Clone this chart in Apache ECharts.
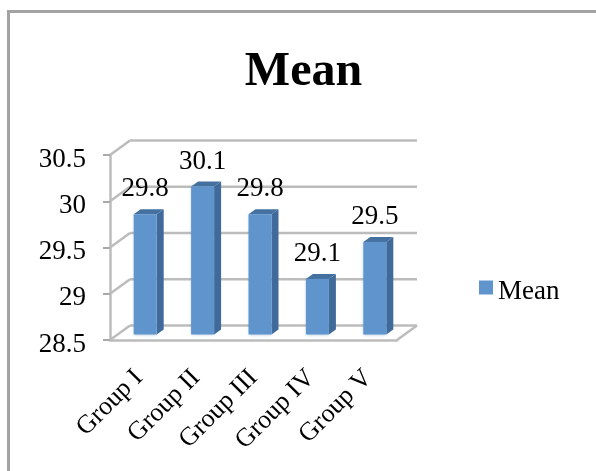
<!DOCTYPE html>
<html>
<head>
<meta charset="utf-8">
<style>html,body{margin:0;padding:0;background:#fff}#chart{width:596px;height:471px}</style>
<script src="https://cdn.jsdelivr.net/npm/echarts@6/dist/echarts.min.js"></script>
</head>
<body>
<div id="chart"></div>
<script>
// Mean value per study group
const categories = ['Group I', 'Group II', 'Group III', 'Group IV', 'Group V'];
const meanValues = [29.8, 30.1, 29.8, 29.1, 29.5];
const yTicks = [28.5, 29, 29.5, 30, 30.5];
const seriesName = 'Mean';

const FONT = '"Liberation Serif", serif';
const WALL_DX = 20, WALL_DY = -14.5;   // offset of the back wall from the front plane
const BAR_DX = 6.5, BAR_DY = -5.5;     // bars stand mid-way along the floor
const BAR_W = 23, SIDE_X = 7, SIDE_Y = -5;
const WALL_COLOR = '#bcbcbc';

const chart = echarts.init(document.getElementById('chart'));

// Back wall gridlines, the slanted joins on the left wall and the floor edge
function renderWall(params, api) {
  const cs = params.coordSys;
  const tick = api.value(1);
  const y = api.coord([0, tick])[1];
  const line = (x1, y1, x2, y2) => ({
    type: 'line',
    shape: { x1, y1, x2, y2 },
    style: { stroke: WALL_COLOR, lineWidth: 2.5 }
  });
  const children = [
    line(cs.x, y, cs.x + WALL_DX, y + WALL_DY),
    line(cs.x + WALL_DX, y + WALL_DY, cs.x + cs.width + WALL_DX, y + WALL_DY)
  ];
  if (tick === yTicks[0]) {
    children.push(line(cs.x + cs.width, y, cs.x + cs.width + WALL_DX, y + WALL_DY));
  }
  return { type: 'group', children };
}

// One extruded column: front face, side face, top face and value label
function renderBar(params, api) {
  const value = api.value(1);
  const centre = api.coord([api.value(0), value]);
  const base = api.coord([api.value(0), yTicks[0]]);
  const x0 = centre[0] + BAR_DX - BAR_W / 2;
  const x1 = x0 + BAR_W;
  const top = centre[1] + BAR_DY;
  const bottom = base[1] + BAR_DY;
  const poly = (points, fill) => ({ type: 'polygon', shape: { points }, style: { fill } });
  return {
    type: 'group',
    children: [
      poly([[x1, top], [x1 + SIDE_X, top + SIDE_Y], [x1 + SIDE_X, bottom + SIDE_Y], [x1, bottom]], '#3f6a9a'),
      poly([[x0, top], [x0 + SIDE_X, top + SIDE_Y], [x1 + SIDE_X, top + SIDE_Y], [x1, top]], '#44719f'),
      {
        type: 'rect',
        shape: { x: x0, y: top, width: BAR_W, height: bottom - top },
        style: {
          fill: '#5f95cc',
          shadowBlur: 3,
          shadowColor: 'rgba(90,130,180,0.45)'
        }
      },
      {
        type: 'text',
        z2: 10,
        style: {
          x: (x0 + x1) / 2,
          y: top - 25,
          text: String(value),
          align: 'center',
          verticalAlign: 'middle',
          font: '27px ' + FONT,
          fill: '#000'
        }
      }
    ]
  };
}

chart.setOption({
  animation: false,
  backgroundColor: '#fff',
  title: {
    text: seriesName,
    left: 298.5,
    top: 44,
    textAlign: 'center',
    textStyle: { fontFamily: FONT, fontSize: 48, fontWeight: 'bold', color: '#000' }
  },
  legend: {
    data: [seriesName],
    left: 474,
    top: 273,
    itemWidth: 14,
    itemHeight: 14,
    itemGap: 7,
    icon: 'rect',
    formatter: name => '{t|' + name + '}',
    textStyle: {
      rich: { t: { fontFamily: FONT, fontSize: 27, color: '#000', padding: [8, 0, 0, 0] } }
    }
  },
  grid: { left: 110, top: 155, width: 287, height: 185 },
  xAxis: {
    type: 'category',
    data: categories,
    axisLine: { lineStyle: { color: WALL_COLOR, width: 2.5 } },
    axisTick: { length: 7, lineStyle: { color: '#a8a8a8', width: 2 } },
    axisLabel: {
      rotate: 45,
      interval: 0,
      margin: 34,
      fontFamily: FONT,
      fontSize: 26,
      color: '#000'
    }
  },
  yAxis: {
    type: 'value',
    min: 28.5,
    max: 30.5,
    interval: 0.5,
    splitLine: { show: false },
    axisLine: { show: true, lineStyle: { color: WALL_COLOR, width: 2.5 } },
    axisTick: { show: true, length: 7, lineStyle: { color: '#a8a8a8', width: 2 } },
    axisLabel: {
      margin: 24,
      formatter: '{t|{value}}',
      rich: { t: { fontFamily: FONT, fontSize: 27, color: '#000', padding: [9, 0, 0, 0] } }
    }
  },
  graphic: [
    // Outer chart-area border along the top and left edges
    { type: 'rect', z: -1, shape: { x: 7, y: 10, width: 589, height: 3 }, style: { fill: '#a3a3a3' } },
    { type: 'rect', z: -1, shape: { x: 7, y: 10, width: 3, height: 461 }, style: { fill: '#a3a3a3' } }
  ],
  series: [
    {
      type: 'custom',
      name: 'wall',
      silent: true,
      z: 1,
      clip: false,
      renderItem: renderWall,
      data: yTicks.map(t => [0, t])
    },
    {
      type: 'custom',
      name: seriesName,
      z: 3,
      clip: false,
      itemStyle: { color: '#5f95cc' },
      renderItem: renderBar,
      data: meanValues.map((v, i) => [i, v])
    }
  ]
});
</script>
</body>
</html>
